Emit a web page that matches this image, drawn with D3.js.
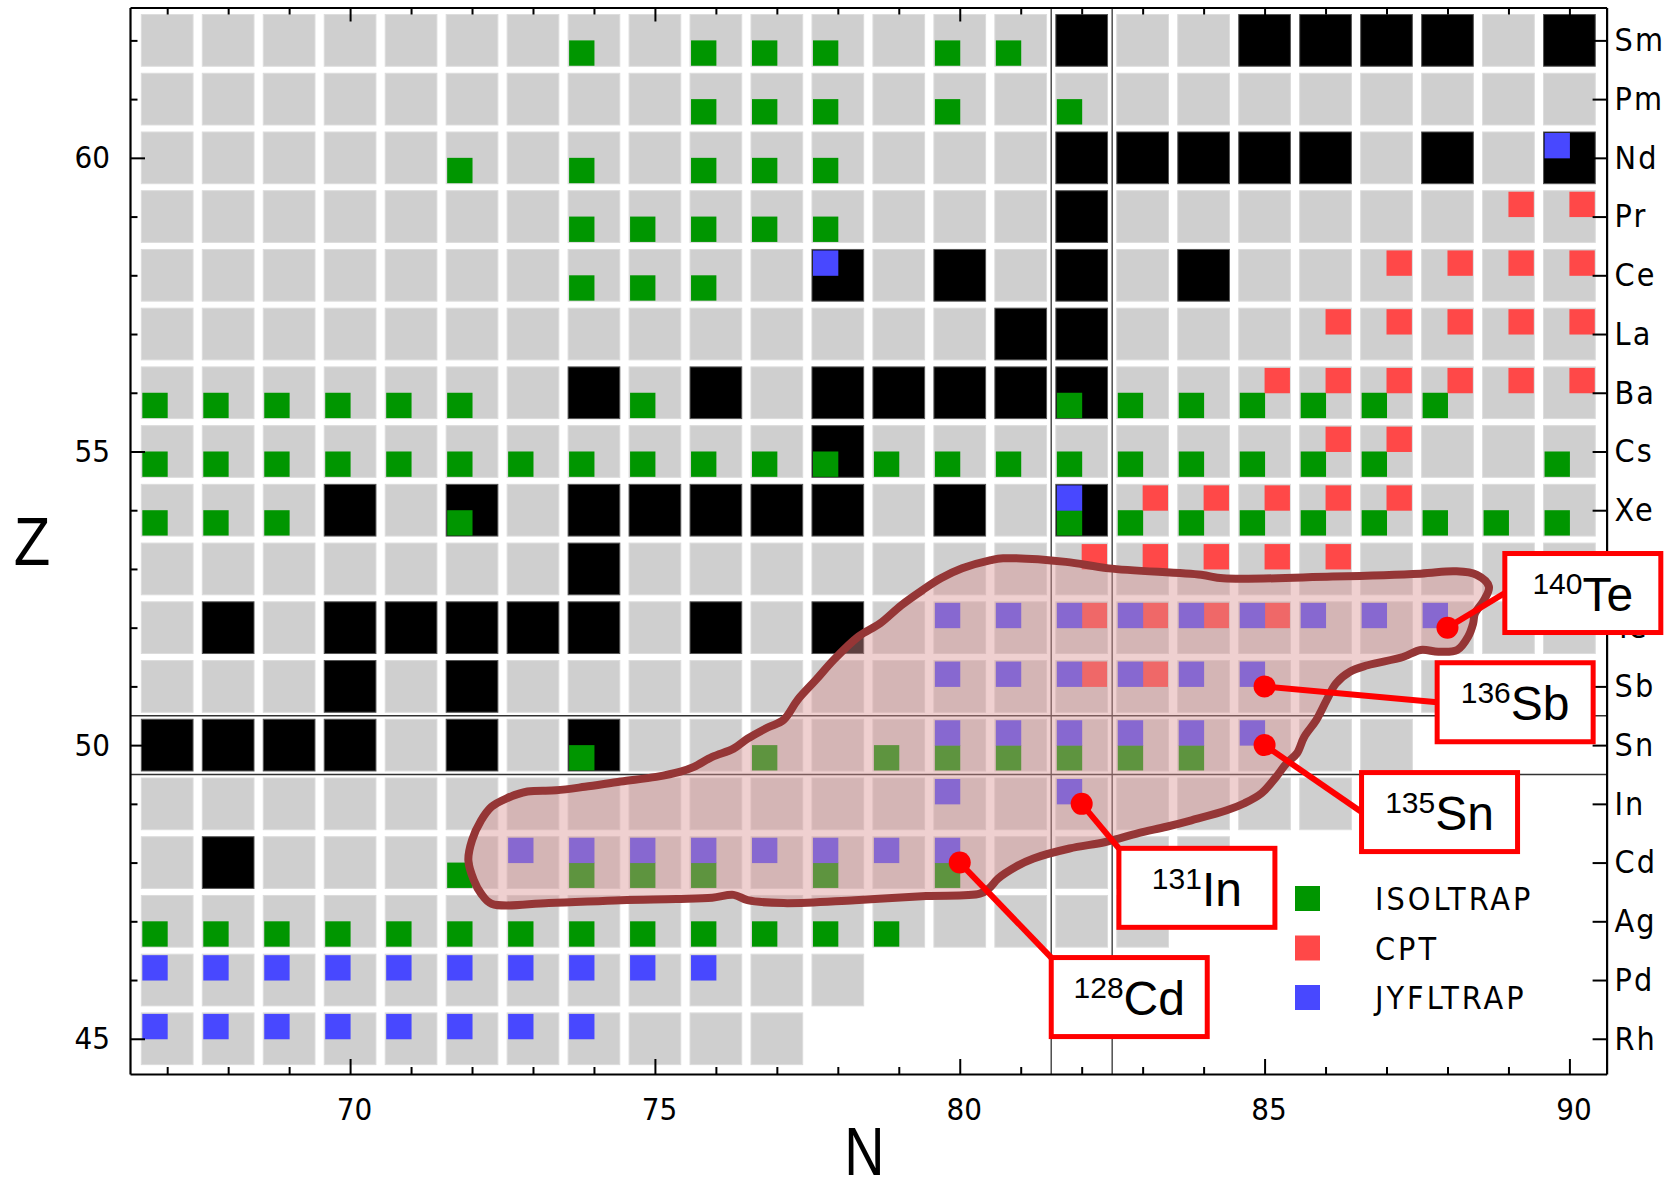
<!DOCTYPE html>
<html>
<head>
<meta charset="utf-8">
<script src="https://cdn.jsdelivr.net/npm/d3@7"></script>
<style>
  body { margin: 0; background: #fff; }
  svg { display: block; }
</style>
</head>
<body>
<div id="chart"></div>
<script>
// ---- data ----
const zValues = [45, 46, 47, 48, 49, 50, 51, 52, 53, 54, 55, 56, 57, 58, 59, 60, 61, 62];
const elements = ["Rh", "Pd", "Ag", "Cd", "In", "Sn", "Sb", "Te", "I", "Xe", "Cs", "Ba", "La", "Ce", "Pr", "Nd", "Pm", "Sm"];
const nTicks = [67, 68, 69, 70, 71, 72, 73, 74, 75, 76, 77, 78, 79, 80, 81, 82, 83, 84, 85, 86, 87, 88, 89, 90];
// first / last neutron number shown in each row (same order as zValues)
const firstN = 67;
const lastN = [77, 78, 83, 84, 86, 87, 88, 90, 90, 90, 90, 90, 90, 90, 90, 90, 90, 90];

// stable nuclides [Z, N]
const stable = [
  [62, 82], [62, 85], [62, 86], [62, 87], [62, 88], [62, 90],
  [60, 82], [60, 83], [60, 84], [60, 85], [60, 86], [60, 88], [60, 90],
  [59, 82],
  [58, 78], [58, 80], [58, 82], [58, 84],
  [57, 81], [57, 82],
  [56, 74], [56, 76], [56, 78], [56, 79], [56, 80], [56, 81], [56, 82],
  [55, 78],
  [54, 70], [54, 72], [54, 74], [54, 75], [54, 76], [54, 77], [54, 78], [54, 80], [54, 82],
  [53, 74],
  [52, 68], [52, 70], [52, 71], [52, 72], [52, 73], [52, 74], [52, 76], [52, 78],
  [51, 70], [51, 72],
  [50, 67], [50, 68], [50, 69], [50, 70], [50, 72], [50, 74],
  [48, 68]
];

// measured masses per trap: [Z, list of N]
const isoltrap = [
  [62, [74, 76, 77, 78, 80, 81]],
  [61, [76, 77, 78, 80, 82]],
  [60, [72, 74, 76, 77, 78]],
  [59, [74, 75, 76, 77, 78]],
  [58, [74, 75, 76]],
  [56, [67, 68, 69, 70, 71, 72, 75, 82, 83, 84, 85, 86, 87, 88]],
  [55, [67, 68, 69, 70, 71, 72, 73, 74, 75, 76, 77, 78, 79, 80, 81, 82, 83, 84, 85, 86, 87, 90]],
  [54, [67, 68, 69, 72, 82, 83, 84, 85, 86, 87, 88, 89, 90]],
  [50, [74, 77, 79, 80, 81, 82, 83, 84]],
  [48, [72, 74, 75, 76, 78, 80]],
  [47, [67, 68, 69, 70, 71, 72, 73, 74, 75, 76, 77, 78, 79]]
];
const cpt = [
  [59, [89, 90]],
  [58, [87, 88, 89, 90]],
  [57, [86, 87, 88, 89, 90]],
  [56, [85, 86, 87, 88, 89, 90]],
  [55, [86, 87]],
  [54, [83, 84, 85, 86, 87]],
  [53, [82, 83, 84, 85, 86]],
  [52, [82, 83, 84, 85]],
  [51, [82, 83]]
];
const jyfltrap = [
  [60, [90]],
  [58, [78]],
  [54, [82]],
  [52, [80, 81, 82, 83, 84, 85, 86, 87, 88]],
  [51, [80, 81, 82, 83, 84, 85]],
  [50, [80, 81, 82, 83, 84, 85]],
  [49, [80, 82]],
  [48, [73, 74, 75, 76, 77, 78, 79, 80]],
  [46, [67, 68, 69, 70, 71, 72, 73, 74, 75, 76]],
  [45, [67, 68, 69, 70, 71, 72, 73, 74]]
];

// shell closures drawn as thin lines
const magicN = [81.5, 82.5];
const magicZ = [49.5, 50.5];

// hand-drawn outline of the highlighted region, [N, Z]
const region = [
  [71.94, 48.04], [72.00, 48.38], [72.15, 48.72], [72.32, 48.95], [72.56, 49.09],
  [72.91, 49.21], [73.38, 49.23], [73.85, 49.29], [74.44, 49.38], [75.02, 49.46],
  [75.42, 49.55], [75.64, 49.63], [75.94, 49.80], [76.29, 49.94], [76.52, 50.11],
  [76.85, 50.30], [77.11, 50.43], [77.34, 50.77], [77.64, 51.11], [77.93, 51.45],
  [78.34, 51.85], [78.69, 52.07], [79.04, 52.38], [79.39, 52.64], [79.69, 52.84],
  [80.04, 53.01], [80.51, 53.15], [80.71, 53.18], [81.74, 53.12], [82.44, 53.01],
  [83.96, 52.90], [84.32, 52.84], [86.11, 52.87], [87.56, 52.92], [88.13, 52.96],
  [88.48, 52.90], [88.68, 52.70], [88.60, 52.47], [88.45, 52.24], [88.42, 52.07],
  [88.34, 51.85], [88.16, 51.62], [87.85, 51.59], [87.56, 51.62], [87.27, 51.50],
  [86.69, 51.36], [86.40, 51.25], [86.17, 51.05], [86.02, 50.77], [85.85, 50.43],
  [85.65, 50.14], [85.53, 49.86], [85.36, 49.69], [85.19, 49.46], [84.95, 49.18],
  [84.67, 49.01], [84.38, 48.89], [83.80, 48.72], [83.39, 48.61], [82.93, 48.50],
  [82.39, 48.35], [81.80, 48.24], [81.21, 48.07], [80.92, 47.93], [80.63, 47.73],
  [80.48, 47.56], [80.33, 47.47], [79.45, 47.43], [78.28, 47.36], [77.11, 47.31],
  [76.52, 47.36], [76.29, 47.45], [75.94, 47.40], [75.35, 47.38], [74.44, 47.36],
  [73.26, 47.31], [72.32, 47.30], [72.15, 47.47], [72.03, 47.70]
];

// highlighted nuclides
const calloutMass = ["140", "136", "135", "131", "128"];
const calloutSym = ["Te", "Sb", "Sn", "In", "Cd"];
const calloutN = [88, 85, 85, 82, 80];
const calloutZ = [52, 51, 50, 49, 48];

const legendNames = ["ISOLTRAP", "CPT", "JYFLTRAP"];

// ---- layout ----
const W = 1672, H = 1182;
const plot = { left: 130, right: 1606.6, top: 7.5, bottom: 1074 };
const cellSize = 51.7;
const half = cellSize / 2;
const colors = { gray: "#cfcfcf", stable: "#000", ISOLTRAP: "#009600", CPT: "#ff4848", JYFLTRAP: "#4848ff" };
// callout boxes, centre in (N, Z) and where the pointer meets the box
const calloutBox = [[90.22, 52.59, "side"], [89.11, 50.73, "side"], [87.87, 48.86, "side"], [83.89, 47.57, "corner"], [82.78, 45.71, "corner"]];
const boxW = 156, boxH = 79;
const condensed = "'DejaVu Sans Condensed', 'DejaVu Sans', sans-serif";

const x = d3.scaleLinear().domain([66.39, 90.61]).range([plot.left, plot.right]);
const y = d3.scaleLinear().domain([44.40, 62.56]).range([plot.bottom, plot.top]);

const svg = d3.select("#chart").append("svg")
    .attr("width", W)
    .attr("height", H)
    .attr("viewBox", `0 0 ${W} ${H}`);

svg.append("rect").attr("width", W).attr("height", H).attr("fill", "#fff");

// ---- nuclide cells ----
const stableSet = new Set(stable.map(d => `${d[0]}-${d[1]}`));
const cells = [];
zValues.forEach((z, i) => {
    for (let n = firstN; n <= lastN[i]; n++) cells.push({ z, n, stable: stableSet.has(`${z}-${n}`) });
});

svg.append("g").selectAll("rect")
    .data(cells)
    .enter()
    .append("rect")
    .attr("x", d => x(d.n) - half)
    .attr("y", d => y(d.z) - half)
    .attr("width", cellSize)
    .attr("height", cellSize)
    .attr("fill", d => d.stable ? colors.stable : colors.gray)
    .attr("stroke", d => d.stable ? "#555" : "#dcdcdc")
    .attr("stroke-width", 1);

// ---- trap markers: one quadrant of the cell each ----
function flatten(list, trap) {
    const out = [];
    list.forEach(([z, ns]) => ns.forEach(n => out.push({ z, n, trap })));
    return out;
}
const markers = [].concat(flatten(isoltrap, "ISOLTRAP"), flatten(cpt, "CPT"), flatten(jyfltrap, "JYFLTRAP"));
const qSize = half - 0.5;
const quad = {
    ISOLTRAP: [-half + 1, 0],       // bottom left
    CPT: [0, -half + 1],            // top right
    JYFLTRAP: [-half + 1, -half + 1] // top left
};

svg.append("g").selectAll("rect")
    .data(markers)
    .enter()
    .append("rect")
    .attr("x", d => x(d.n) + quad[d.trap][0])
    .attr("y", d => y(d.z) + quad[d.trap][1])
    .attr("width", qSize)
    .attr("height", qSize)
    .attr("fill", d => colors[d.trap]);

// ---- shell closure lines ----
const magic = svg.append("g").attr("stroke", "#333").attr("stroke-width", 1.3);
magic.selectAll(".vn").data(magicN).enter().append("line")
    .attr("x1", d => x(d)).attr("x2", d => x(d))
    .attr("y1", plot.top).attr("y2", plot.bottom);
magic.selectAll(".hz").data(magicZ).enter().append("line")
    .attr("y1", d => y(d)).attr("y2", d => y(d))
    .attr("x1", plot.left).attr("x2", plot.right);

// ---- highlighted region ----
svg.append("path")
    .datum(region)
    .attr("d", d3.line().x(d => x(d[0])).y(d => y(d[1])).curve(d3.curveCatmullRomClosed.alpha(0.5)))
    .attr("fill", "rgb(217,145,145)")
    .attr("fill-opacity", 0.43)
    .attr("stroke", "#953636")
    .attr("stroke-width", 8)
    .attr("stroke-linejoin", "round");

// ---- axes (ticks inside the frame) ----
function styleAxis(g) {
    g.select(".domain").attr("stroke-width", 2.2);
    g.selectAll(".tick line").attr("stroke-width", 2);
}

const bottomAxis = svg.append("g")
    .attr("transform", `translate(0,${plot.bottom})`)
    .call(d3.axisBottom(x).tickValues(nTicks).tickSizeInner(-7).tickSizeOuter(0).tickPadding(24)
        .tickFormat(d => d % 5 === 0 ? d : ""));
bottomAxis.selectAll(".tick line").filter(d => d % 5 === 0).attr("y2", -15);
bottomAxis.selectAll("text").attr("dx", 4).style("font-family", condensed).style("font-stretch", "condensed").style("font-size", "31px");
styleAxis(bottomAxis);

const topAxis = svg.append("g")
    .attr("transform", `translate(0,${plot.top})`)
    .call(d3.axisTop(x).tickValues(nTicks).tickSizeInner(-7).tickSizeOuter(0).tickFormat(""));
topAxis.selectAll(".tick line").filter(d => d % 5 === 0).attr("y2", 14);
styleAxis(topAxis);

const leftAxis = svg.append("g")
    .attr("transform", `translate(${plot.left},0)`)
    .call(d3.axisLeft(y).tickValues(zValues).tickSizeInner(-7.5).tickSizeOuter(0).tickPadding(20)
        .tickFormat(d => d % 5 === 0 ? d : ""));
leftAxis.selectAll(".tick line").filter(d => d % 5 === 0).attr("x2", 15);
leftAxis.selectAll("text").style("font-family", condensed).style("font-stretch", "condensed").style("font-size", "31px");
styleAxis(leftAxis);

const rightAxis = svg.append("g")
    .attr("transform", `translate(${plot.right},0)`)
    .call(d3.axisRight(y).tickValues(zValues).tickSizeInner(-14).tickSizeOuter(0).tickPadding(8)
        .tickFormat(d => elements[zValues.indexOf(d)]));
rightAxis.selectAll("text").style("font-family", condensed).style("font-stretch", "condensed").style("font-size", "32px").style("letter-spacing", "2px");
styleAxis(rightAxis);

// axis titles
svg.append("text")
    .attr("transform", `translate(${(plot.left + plot.right) / 2 - 4},1175) scale(0.82,1)`)
    .attr("text-anchor", "middle")
    .style("font-family", "'Liberation Sans Narrow', 'Liberation Sans', Arial, sans-serif")
    .style("font-size", "68px")
    .text("N");

svg.append("text")
    .attr("transform", `translate(32,565) scale(0.88,1)`)
    .attr("text-anchor", "middle")
    .style("font-family", "'Liberation Sans Narrow', 'Liberation Sans', Arial, sans-serif")
    .style("font-size", "68px")
    .text("Z");

// ---- legend ----
const legend = svg.append("g").attr("transform", "translate(1295,886)");
legendNames.forEach((name, i) => {
    legend.append("rect")
        .attr("x", 0).attr("y", i * 49.5)
        .attr("width", 25).attr("height", 25)
        .attr("fill", colors[name]);
    legend.append("text")
        .attr("x", 80).attr("y", i * 49.5 + 24)
        .style("font-family", condensed)
        .style("font-stretch", "condensed")
        .style("font-size", "32px")
        .style("letter-spacing", "3px")
        .text(name);
});

// ---- callouts ----
const callouts = calloutSym.map((sym, i) => ({
    mass: calloutMass[i], sym, n: calloutN[i], z: calloutZ[i],
    bx: x(calloutBox[i][0]), by: y(calloutBox[i][1]), hook: calloutBox[i][2]
}));

const co = svg.append("g");
callouts.forEach(d => {
    const px = x(d.n), py = y(d.z);
    const ex = d.bx - boxW / 2;
    const ey = d.hook === "side" ? d.by : d.by - boxH / 2;
    co.append("line")
        .attr("x1", px).attr("y1", py).attr("x2", ex).attr("y2", ey)
        .attr("stroke", "#ff0000").attr("stroke-width", 6);
    co.append("circle")
        .attr("cx", px).attr("cy", py).attr("r", 11)
        .attr("fill", "#ff0000");
    co.append("rect")
        .attr("x", d.bx - boxW / 2).attr("y", d.by - boxH / 2)
        .attr("width", boxW).attr("height", boxH)
        .attr("fill", "#fff")
        .attr("stroke", "#ff0000").attr("stroke-width", 5);
    const t = co.append("text")
        .attr("x", d.bx).attr("y", d.by + 18)
        .attr("text-anchor", "middle")
        .style("font-family", "'Liberation Sans', Arial, sans-serif");
    t.append("tspan").style("font-size", "30px").attr("dy", -17).text(d.mass);
    t.append("tspan").style("font-size", "48px").attr("dy", 17).text(d.sym);
});
</script>
</body>
</html>
